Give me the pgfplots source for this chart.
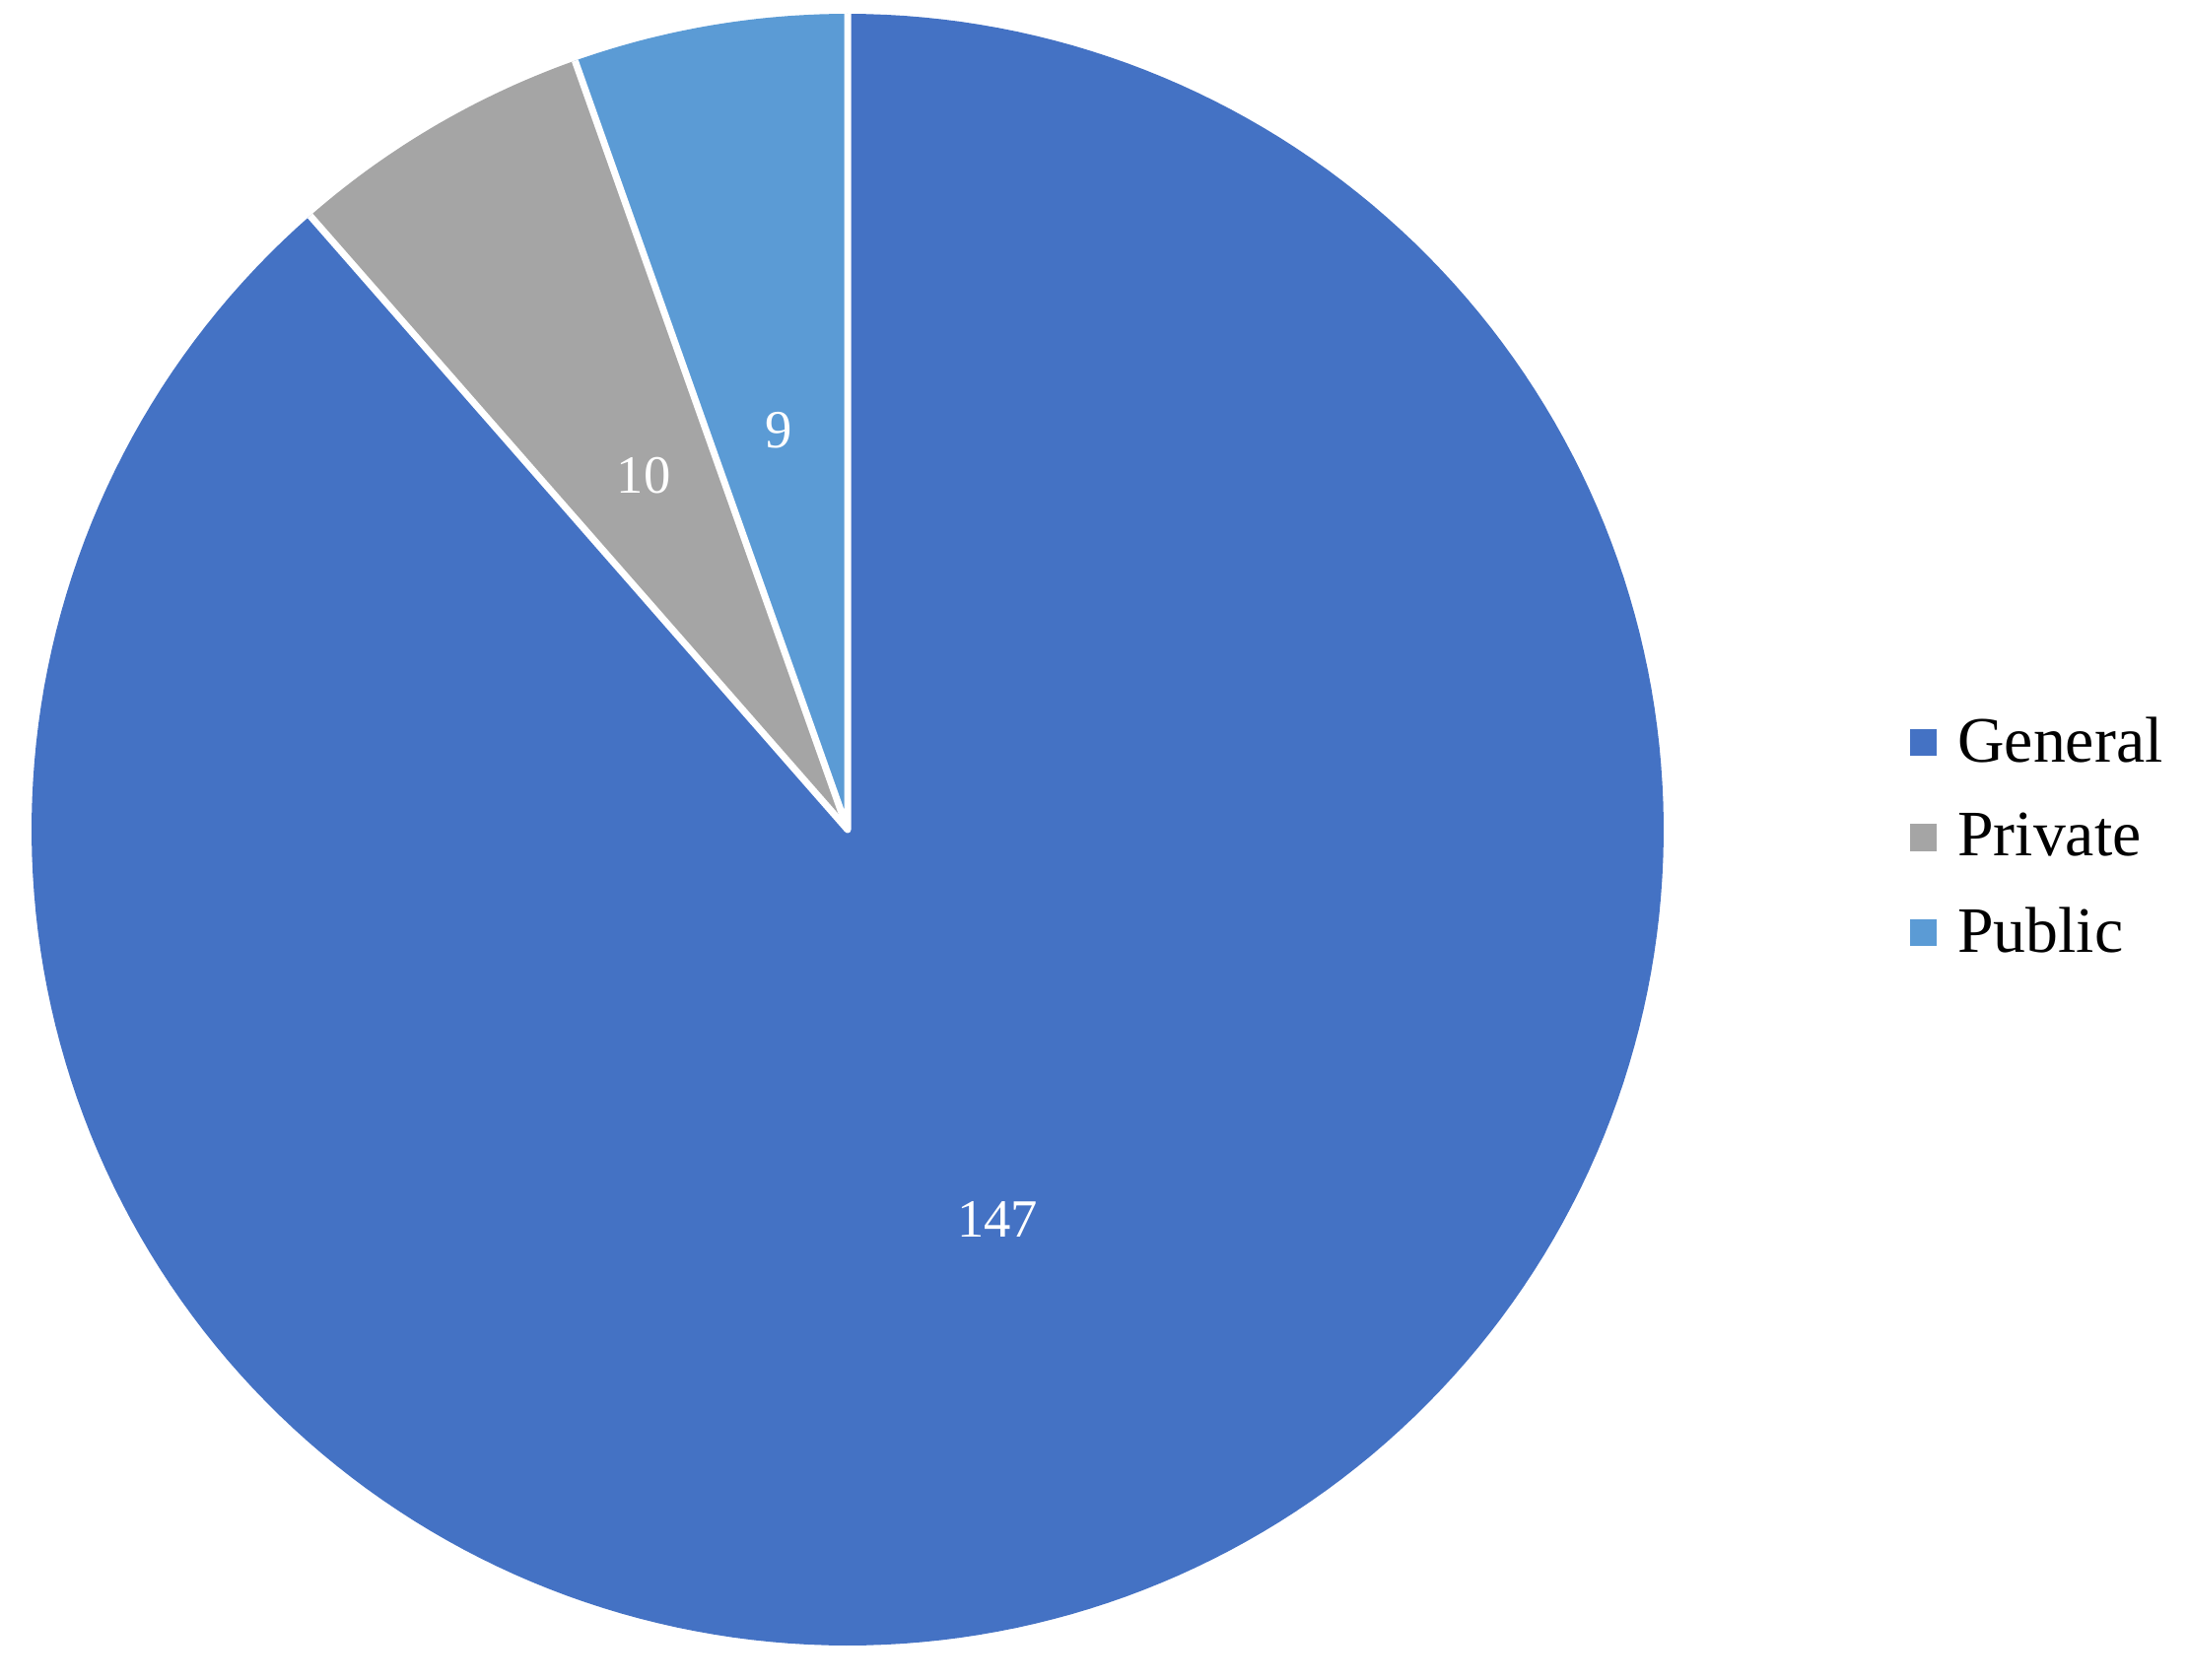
\documentclass[border=0pt]{standalone}
\usepackage{pgfplots}
\pgfplotsset{compat=1.18}
\usepackage{fontspec}
\setmainfont{Liberation Serif}
\definecolor{cGen}{HTML}{4472C4}
\definecolor{cPri}{HTML}{A5A5A5}
\definecolor{cPub}{HTML}{5B9BD5}
% data values
\def\vGen{147}
\def\vPri{10}
\def\vPub{9}
\pgfmathsetmacro{\tot}{\vGen+\vPri+\vPub}
\pgfmathsetmacro{\aA}{90}
\pgfmathsetmacro{\aB}{90+\vPub/\tot*360}
\pgfmathsetmacro{\aC}{\aB+\vPri/\tot*360}
\pgfmathsetmacro{\aD}{\aC+\vGen/\tot*360}
\def\R{828}
\begin{document}
\begin{tikzpicture}
\begin{axis}[
  x=0.25bp, y=0.25bp,
  xmin=0, xmax=2220, ymin=0, ymax=1704,
  hide axis, clip=false,
  legend image code/.code={\fill[#1] (0bp,-3.25bp) rectangle (6.5bp,3.25bp);},
  legend style={at={(0.8725,0.5012)}, anchor=west, draw=none, fill=none,
    inner sep=0pt, font=\fontsize{16.5}{19}\selectfont, row sep=11.5bp,
    nodes={inner sep=0pt}, column sep=5.25bp},
  legend cell align=left,
]
\path (axis cs:0,0) rectangle (axis cs:2220,1704);
\addplot[fill=cGen, draw=none, domain=\aC:\aD, samples=240, variable=\t, forget plot]
  ({860+\R*cos(\t)},{862+\R*sin(\t)}) -- (axis cs:860,862) -- cycle;
\addplot[fill=cPri, draw=none, domain=\aB:\aC, samples=30, variable=\t, forget plot]
  ({860+\R*cos(\t)},{862+\R*sin(\t)}) -- (axis cs:860,862) -- cycle;
\addplot[fill=cPub, draw=none, domain=\aA:\aB, samples=30, variable=\t, forget plot]
  ({860+\R*cos(\t)},{862+\R*sin(\t)}) -- (axis cs:860,862) -- cycle;
% white separators between slices
\addplot[white, line width=1.75bp, line cap=butt, line join=round, forget plot] coordinates
  {({860+\R*cos(\aA)},{862+\R*sin(\aA)}) (860,862) ({860+\R*cos(\aB)},{862+\R*sin(\aB)})};
\addplot[white, line width=1.75bp, line cap=butt, line join=round, forget plot] coordinates
  {({860+\R*cos(\aC)},{862+\R*sin(\aC)}) (860,862)};
\addlegendimage{cGen}\addlegendentry{General}
\addlegendimage{cPri}\addlegendentry{Private}
\addlegendimage{cPub}\addlegendentry{Public}
\node[text=white, font=\fontsize{13.7}{16}\selectfont] at (axis cs:1012,467) {\vGen};
\node[text=white, font=\fontsize{13.7}{16}\selectfont] at (axis cs:653,1221) {\vPri};
\node[text=white, font=\fontsize{13.7}{16}\selectfont] at (axis cs:790,1267) {\vPub};
\end{axis}
\end{tikzpicture}
\end{document}
